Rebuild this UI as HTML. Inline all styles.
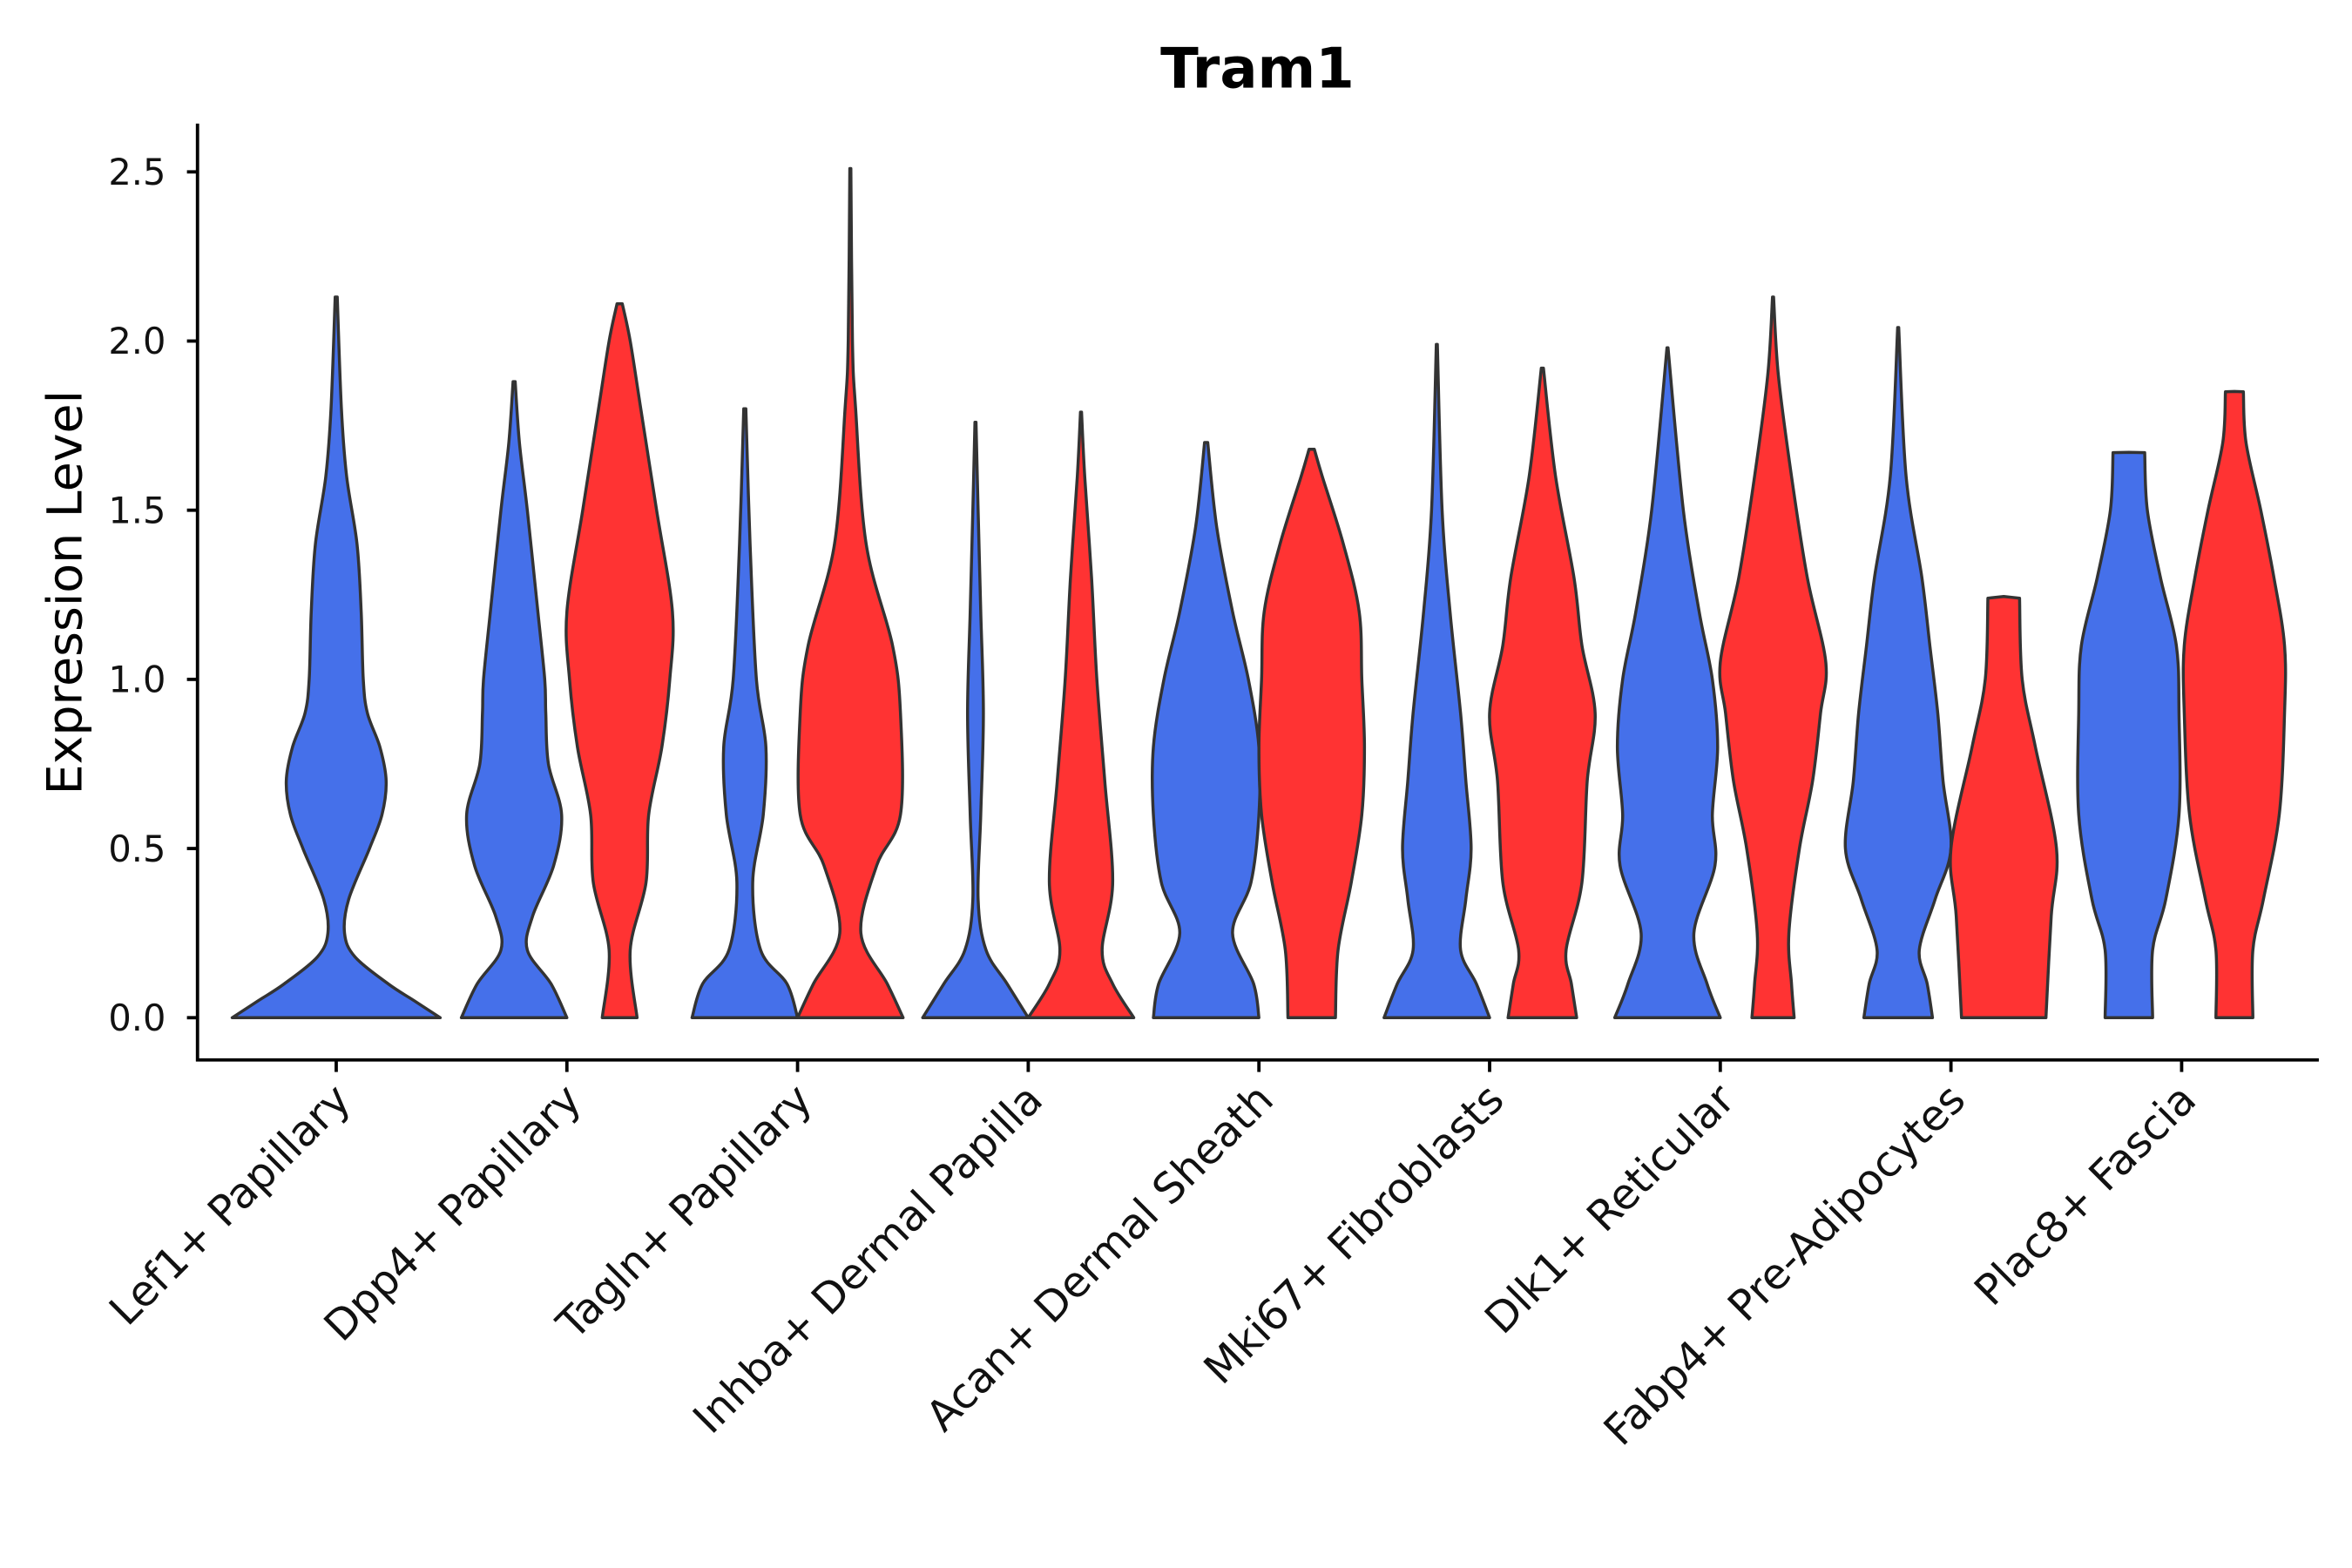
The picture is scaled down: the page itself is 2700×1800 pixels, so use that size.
<!DOCTYPE html>
<html><head><meta charset="utf-8"><style>html,body{margin:0;padding:0;background:#fff}svg{display:block}</style></head>
<body>
<svg id="chart" xmlns="http://www.w3.org/2000/svg" width="2700" height="1800" viewBox="0 0 1560 1040" font-family="'DejaVu Sans','Liberation Sans',sans-serif">
<rect width="1560" height="1040" fill="#fff"/>
<text x="834" y="58" text-anchor="middle" font-size="37" font-weight="bold">Tram1</text>
<text transform="translate(54,393) rotate(-90)" text-anchor="middle" font-size="32">Expression Level</text>
<g id="violins"></g>
<g id="axes"></g>
</svg>
<script>
const categories = ["Lef1+ Papillary","Dpp4+ Papillary","Tagln+ Papillary","Inhba+ Dermal Papilla","Acan+ Dermal Sheath","Mki67+ Fibroblasts","Dlk1+ Reticular","Fabp4+ Pre-Adipocytes","Plac8+ Fascia"];
const yTicks = [0,0.5,1,1.5,2,2.5];
const yTickLabels = ["0.0","0.5","1.0","1.5","2.0","2.5"];
// density profiles: [expression, relative width]
const blueProfiles = [
 [[0,1],[0.05,0.75],[0.1,0.5],[0.18,0.18],[0.25,0.08],[0.35,0.12],[0.5,0.32],[0.6,0.44],[0.7,0.48],[0.8,0.42],[0.9,0.3],[1.0,0.26],[1.2,0.24],[1.4,0.2],[1.6,0.1],[1.8,0.05],[2.13,0.01]],
 [[0,1],[0.1,0.7],[0.2,0.25],[0.3,0.35],[0.45,0.75],[0.6,0.9],[0.75,0.65],[0.9,0.6],[1.0,0.58],[1.2,0.45],[1.5,0.25],[1.7,0.1],[1.88,0.02]],
 [[0,1],[0.1,0.8],[0.2,0.3],[0.4,0.15],[0.6,0.35],[0.8,0.4],[1.0,0.22],[1.4,0.1],[1.8,0.02]],
 [[0,1],[0.1,0.6],[0.2,0.2],[0.35,0.05],[0.6,0.1],[0.9,0.15],[1.2,0.1],[1.5,0.05],[1.76,0.01]],
 [[0,1],[0.1,0.9],[0.25,0.5],[0.4,0.85],[0.6,1.0],[0.8,1.0],[1.0,0.8],[1.2,0.5],[1.45,0.2],[1.7,0.03]],
 [[0,1],[0.1,0.75],[0.2,0.45],[0.35,0.55],[0.5,0.65],[0.7,0.55],[0.9,0.45],[1.2,0.25],[1.5,0.1],[1.99,0.01]],
 [[0,1],[0.1,0.75],[0.25,0.5],[0.45,0.9],[0.6,0.85],[0.8,0.95],[1.0,0.85],[1.2,0.6],[1.5,0.3],[1.98,0.01]],
 [[0,0.65],[0.1,0.55],[0.2,0.4],[0.35,0.7],[0.5,1.0],[0.7,0.85],[0.9,0.75],[1.1,0.6],[1.3,0.45],[1.6,0.15],[2.04,0.01]],
 [[0,0.45],[0.2,0.45],[0.35,0.7],[0.6,0.95],[0.9,0.95],[1.1,0.9],[1.3,0.6],[1.5,0.35],[1.67,0.3],[1.671,0]]
];
const redProfiles = [
 null,
 [[0,0.33],[0.2,0.2],[0.4,0.5],[0.6,0.55],[0.8,0.8],[1.0,0.95],[1.2,1.0],[1.5,0.7],[1.8,0.4],[2.0,0.2],[2.11,0.05]],
 [[0,1],[0.1,0.7],[0.25,0.2],[0.45,0.5],[0.6,0.95],[0.9,0.95],[1.1,0.8],[1.4,0.3],[1.8,0.1],[2.0,0.04],[2.51,0.01]],
 [[0,1],[0.1,0.6],[0.2,0.4],[0.4,0.6],[0.7,0.45],[1.0,0.3],[1.3,0.2],[1.6,0.07],[1.79,0.01]],
 [[0,0.45],[0.2,0.5],[0.4,0.75],[0.6,0.95],[0.8,1.0],[1.0,0.95],[1.2,0.9],[1.4,0.6],[1.6,0.2],[1.68,0.05]],
 [[0,0.65],[0.1,0.55],[0.2,0.45],[0.4,0.75],[0.7,0.85],[0.9,1.0],[1.1,0.75],[1.3,0.6],[1.6,0.25],[1.92,0.02]],
 [[0,0.4],[0.1,0.35],[0.25,0.3],[0.5,0.5],[0.7,0.75],[0.9,0.9],[1.05,1.0],[1.3,0.65],[1.6,0.35],[1.9,0.1],[2.13,0.01]],
 [[0,0.8],[0.3,0.9],[0.5,1.0],[0.8,0.6],[1.0,0.35],[1.24,0.3],[1.245,0]],
 [[0,0.35],[0.2,0.35],[0.35,0.55],[0.6,0.85],[0.9,0.95],[1.1,0.95],[1.3,0.75],[1.5,0.5],[1.7,0.22],[1.85,0.17],[1.851,0]]
];
const NS="http://www.w3.org/2000/svg";
const x0=223, dx=153, y0=675, pxPerUnit=224.4;
const xScale=i=>x0+i*dx;
const yScale=v=>y0-v*pxPerUnit;
function smooth(pts){
  let d="";
  for(let i=0;i<pts.length-1;i++){
    const p0=pts[Math.max(0,i-1)],p1=pts[i],p2=pts[i+1],p3=pts[Math.min(pts.length-1,i+2)];
    if(Math.abs(p2[1]-p1[1])<2){d+=" L"+p2[0].toFixed(2)+","+p2[1].toFixed(2);continue;}
    const t=6;
    const q0=Math.abs(p1[1]-p0[1])<2?p1:p0;
    const q3=Math.abs(p3[1]-p2[1])<2?p2:p3;
    const c1=[p1[0]+(p2[0]-q0[0])/t,p1[1]+(p2[1]-q0[1])/t];
    const c2=[p2[0]-(q3[0]-p1[0])/t,p2[1]-(q3[1]-p1[1])/t];
    d+=" C"+c1[0].toFixed(2)+","+c1[1].toFixed(2)+" "+c2[0].toFixed(2)+","+c2[1].toFixed(2)+" "+p2[0].toFixed(2)+","+p2[1].toFixed(2);
  }
  return d;
}
function violinPath(prof,cx,hw){
  const r=prof.map(p=>[cx+p[1]*hw,yScale(p[0])]);
  const l=prof.slice().reverse().map(p=>[cx-p[1]*hw,yScale(p[0])]);
  return "M"+r[0][0].toFixed(2)+","+r[0][1].toFixed(2)+smooth(r)+" L"+l[0][0].toFixed(2)+","+l[0][1].toFixed(2)+smooth(l)+" Z";
}
const gV=document.getElementById("violins");
categories.forEach((c,i)=>{
  const cx=xScale(i);
  const single=!redProfiles[i];
  const hw=single?69:35;
  const bp=document.createElementNS(NS,"path");
  bp.setAttribute("d",violinPath(blueProfiles[i],single?cx:cx-35,hw));
  bp.setAttribute("fill","#4570ea");bp.setAttribute("stroke","#333");bp.setAttribute("stroke-width","2");bp.setAttribute("stroke-linejoin","round");
  
  
  gV.appendChild(bp);
  if(!single){
    const rp=document.createElementNS(NS,"path");
    rp.setAttribute("d",violinPath(redProfiles[i],cx+35,hw));
    rp.setAttribute("fill","#ff3333");rp.setAttribute("stroke","#333");rp.setAttribute("stroke-width","2");rp.setAttribute("stroke-linejoin","round");
    
    
    gV.appendChild(rp);
  }
});
const gA=document.getElementById("axes");
function line(x1,y1,x2,y2,name){
  const l=document.createElementNS(NS,"line");
  l.setAttribute("x1",x1);l.setAttribute("y1",y1);l.setAttribute("x2",x2);l.setAttribute("y2",y2);
  l.setAttribute("stroke","#000");l.setAttribute("stroke-width","2.2");
  
  
  gA.appendChild(l);
}
line(131,82,131,704,"y-axis-line");
line(130,703,1538,703,"x-axis-line");
yTicks.forEach((v,i)=>{
  const y=yScale(v);
  line(124,y,131,y,"y-tick");
  const t=document.createElementNS(NS,"text");
  t.setAttribute("x",110);t.setAttribute("y",y+8.5);t.setAttribute("text-anchor","end");t.setAttribute("font-size","24");t.setAttribute("fill","#111");
  t.textContent=yTickLabels[i];
  
  
  gA.appendChild(t);
});
categories.forEach((c,i)=>{
  const x=xScale(i);
  line(x,703,x,711,"x-tick");
  const t=document.createElementNS(NS,"text");
  t.setAttribute("transform","translate("+(x+11)+",731) rotate(-45)");
  t.setAttribute("text-anchor","end");t.setAttribute("font-size","28");t.setAttribute("fill","#111");
  t.textContent=c;
  
  
  gA.appendChild(t);
});
</script>
</body></html>
